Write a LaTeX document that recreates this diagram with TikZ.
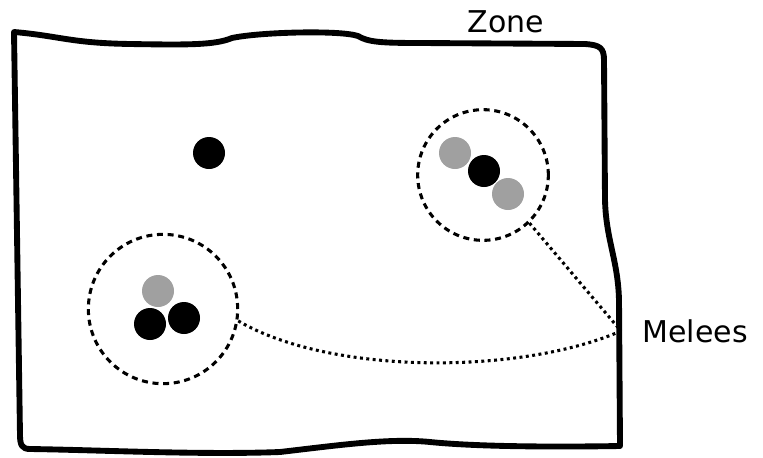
\documentclass[tikz,border=0pt]{standalone}
\usepackage{fontspec}
\setmainfont{DejaVu Sans}
\usepackage{xcolor}
\usepackage{tikz}
\usetikzlibrary{positioning}

\definecolor{meleegray}{RGB}{160,160,160}

\begin{document}
\begin{tikzpicture}[x=0.75pt, y=-0.75pt,
    zone border/.style={line width=4.4pt, line join=round, line cap=round},
    melee ring/.style={circle, draw, line width=2.3pt, dash pattern=on 4.5pt off 3.5pt, inner sep=0pt},
    black dot/.style={circle, fill=black, inner sep=0pt, minimum size=24pt},
    gray dot/.style={circle, fill=meleegray, inner sep=0pt, minimum size=24pt},
    melee link/.style={line width=2.3pt, dash pattern=on 2.2pt off 2.6pt},
    tag/.style={inner sep=0pt, font=\fontsize{22.5}{27}\selectfont}]
    \useasboundingbox (0,0) rectangle (763,457);

    % Vùng (khung vẽ tay)
    \draw[zone border] (14,32) .. controls (60,36) and (70,43) .. (130,44)
        .. controls (190,45) and (215,45) .. (232,38)
        .. controls (260,32) and (340,30) .. (358,36)
        .. controls (368,42) and (380,43) .. (420,43) -- (585,44)
        .. controls (600,45) and (604,48) .. (604,60) -- (605,200)
        .. controls (606,240) and (618,260) .. (619,300) -- (620,446)
        .. controls (560,447) and (480,447) .. (430,442)
        .. controls (390,438) and (340,445) .. (280,452)
        .. controls (200,455) and (100,450) .. (30,449)
        .. controls (22,449) and (20,445) .. (20,435) -- cycle;
    \node[tag] (zone) at (506,22) {Zone};

    % Điểm đơn lẻ
    \node[black dot] (lone) at (209,153) {};

    % Nhóm bên phải
    \node[melee ring, minimum size=98pt] (rightmelee) at (483,175) {};
    \node[gray dot] (rgtop) at (455,153) {};
    \node[black dot] (rbmid) at (484,171) {};
    \node[gray dot] (rgbot) at (508,194) {};

    % Nhóm bên trái
    \node[melee ring, minimum size=112pt] (leftmelee) at (163,309) {};
    \node[gray dot] (lgtop) at (158,291) {};
    \node[black dot] (lbleft) at (150,324) {};
    \node[black dot] (lbright) at (184,318) {};

    % Nhãn Melees và đường nối
    \coordinate (meet) at (621,331);
    \node[tag, right=16pt of meet] (melees) {Melees};
    \draw[melee link] (rightmelee.-46) -- (meet);
    \draw[melee link] (leftmelee.-9) .. controls (330,375) and (520,375) .. (meet);
\end{tikzpicture}
\end{document}
